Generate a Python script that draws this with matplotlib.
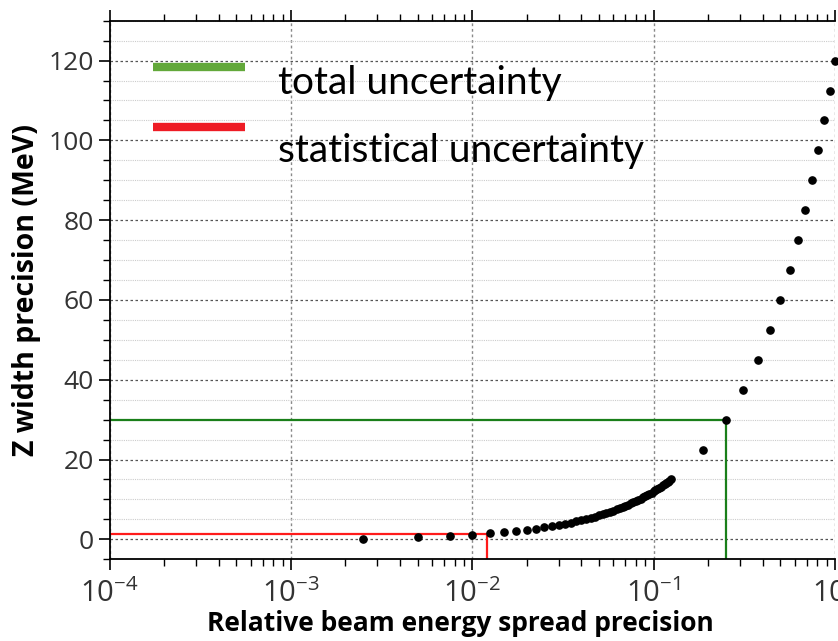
import matplotlib
matplotlib.use("Agg")
import matplotlib.pyplot as plt
from matplotlib.ticker import LogLocator, MultipleLocator, NullFormatter

# relative beam energy spread precision (x) and Z width precision in MeV (y)
x_fine = [0.0025, 0.005, 0.0075, 0.01, 0.0125, 0.015, 0.0175, 0.02, 0.0225, 0.025,
          0.0275, 0.03, 0.0325, 0.035, 0.0375, 0.04, 0.0425, 0.045, 0.0475, 0.05,
          0.0525, 0.055, 0.0575, 0.06, 0.0625, 0.065, 0.0675, 0.07, 0.0725, 0.075,
          0.0775, 0.08, 0.0825, 0.085, 0.0875, 0.09, 0.0925, 0.095, 0.0975, 0.1,
          0.1025, 0.105, 0.1075, 0.11, 0.1125, 0.115, 0.1175, 0.12, 0.1225, 0.125]
y_fine = [0.1, 0.5, 0.85, 1.15, 1.5, 1.8, 2.1, 2.4, 2.7, 3.0,
          3.3, 3.6, 3.9, 4.2, 4.5, 4.8, 5.1, 5.4, 5.7, 6.0,
          6.3, 6.6, 6.9, 7.2, 7.5, 7.8, 8.1, 8.4, 8.7, 9.0,
          9.3, 9.6, 9.9, 10.2, 10.5, 10.8, 11.1, 11.4, 11.7, 12.0,
          12.3, 12.6, 12.9, 13.2, 13.5, 13.8, 14.1, 14.4, 14.7, 15.0]

x_coarse = [0.1875, 0.25, 0.3125, 0.375, 0.4375, 0.5, 0.5625, 0.625, 0.6875,
            0.75, 0.8125, 0.875, 0.9375, 1.0]
y_coarse = [22.5, 30.0, 37.5, 45.0, 52.5, 60.0, 67.5, 75.0, 82.5,
            90.0, 97.5, 105.0, 112.5, 120.0]

# reference levels
total_x, total_y = 0.25, 30.0
stat_x, stat_y = 0.0121, 1.3

legend_labels = ["total uncertainty", "statistical uncertainty"]

plt.rcParams["font.family"] = "Open Sans"
plt.rcParams["mathtext.fontset"] = "custom"
plt.rcParams["mathtext.rm"] = "Open Sans"
plt.rcParams["mathtext.it"] = "Open Sans"

fig = plt.figure(figsize=(8.38, 6.41), dpi=100)
ax = fig.add_axes([0.1308, 0.1275, 0.8654, 0.8402])

ax.set_xscale("log")
ax.set_xlim(1e-4, 1.0)
ax.set_ylim(-5, 130)

# grid
ax.grid(True, which="major", axis="x", color="#8a8a8a", linestyle=(0, (2, 2)), linewidth=1.0)
ax.grid(True, which="major", axis="y", color="#555555", linestyle=(0, (2, 2)), linewidth=0.9)
ax.yaxis.set_minor_locator(MultipleLocator(5))
ax.grid(True, which="minor", axis="y", color="#cccccc", linestyle=(0, (1, 1)), linewidth=0.8)
ax.set_axisbelow(True)

# uncertainty lines
ax.plot([1e-4, total_x, total_x], [total_y, total_y, -5], color="#1a7f1a", lw=1.6)
ax.plot([1e-4, stat_x, stat_x], [stat_y, stat_y, -5], color="#ff1a1a", lw=1.6)

# points
ax.plot(x_fine, y_fine, "o", color="black", ms=5.2, clip_on=False, zorder=5)
ax.plot(x_coarse, y_coarse, "o", color="black", ms=5.2, clip_on=False, zorder=5)

# legend drawn like the pasted one
ax.plot([0.060, 0.187], [0.914, 0.914], transform=ax.transAxes, color="#62a83a", lw=6,
        solid_capstyle="butt")
ax.plot([0.060, 0.187], [0.803, 0.803], transform=ax.transAxes, color="#ee1c25", lw=6,
        solid_capstyle="butt")
ax.text(0.232, 0.885, legend_labels[0], transform=ax.transAxes, fontsize=28,
        family="Lato", va="center", ha="left")
ax.text(0.232, 0.758, legend_labels[1], transform=ax.transAxes, fontsize=28,
        family="Lato", va="center", ha="left")

# ticks
ax.xaxis.set_major_locator(LogLocator(base=10, numticks=10))
ax.xaxis.set_minor_locator(LogLocator(base=10, subs=range(2, 10), numticks=20))
ax.xaxis.set_minor_formatter(NullFormatter())
ax.yaxis.set_major_locator(MultipleLocator(20))
ax.tick_params(axis="x", which="both", direction="out", top=True, bottom=True,
               labelsize=21, labelcolor="#333333", pad=6)
ax.tick_params(axis="y", which="both", direction="out", left=True, right=False,
               labelsize=19, labelcolor="#333333")
ax.tick_params(which="major", length=8, width=1.2)
ax.tick_params(which="minor", length=5, width=1.0)

for side in ["top", "bottom", "left"]:
    ax.spines[side].set_linewidth(1.3)
ax.spines["right"].set_visible(False)

ax.set_xlabel("Relative beam energy spread precision", fontsize=19, fontweight="bold")
ax.set_ylabel("Z width precision (MeV)", fontsize=20.5, fontweight="bold")
ax.xaxis.set_label_coords(0.483, -0.095)
ax.yaxis.set_label_coords(-0.094, 0.5)

fig.savefig("out.png", dpi=100)
